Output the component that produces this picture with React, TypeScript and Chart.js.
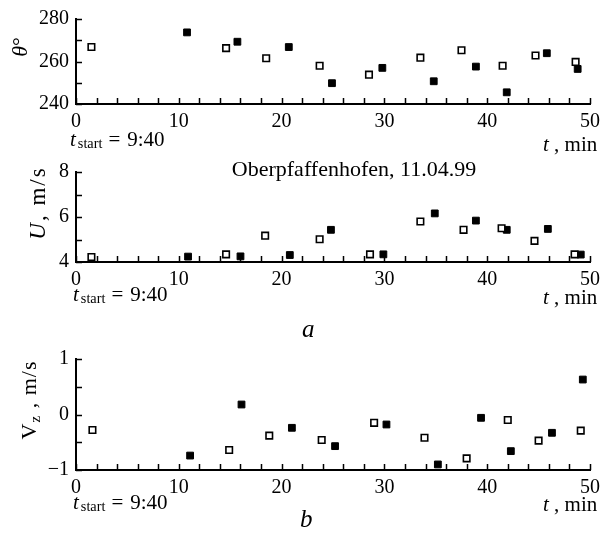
import React, { useEffect, useRef } from "react";
import { Chart, registerables } from "chart.js";

Chart.register(...registerables);

// ---- data ----
const thetaOpenT = [1.5, 14.6, 18.5, 23.7, 28.5, 33.5, 37.5, 41.5, 44.7, 48.6];
const thetaOpen = [266.8, 266.3, 261.5, 258, 253.8, 261.8, 265.3, 258, 262.8, 259.8];
const thetaFilledT = [10.8, 15.7, 20.7, 24.9, 29.8, 34.8, 38.9, 41.9, 45.8, 48.8];
const thetaFilled = [273.7, 269.3, 266.8, 249.8, 257, 250.7, 257.6, 245.5, 263.9, 256.5];

const uOpenT = [1.5, 14.6, 18.4, 23.7, 28.6, 33.5, 37.7, 41.4, 44.6, 48.5];
const uOpen = [4.22, 4.34, 5.17, 5.01, 4.34, 5.8, 5.43, 5.5, 4.94, 4.34];
const uFilledT = [10.9, 16.0, 20.8, 24.8, 29.9, 34.9, 38.9, 41.9, 45.9, 49.1];
const uFilled = [4.24, 4.25, 4.31, 5.43, 4.34, 6.16, 5.84, 5.43, 5.47, 4.33];

const vOpenT = [1.6, 14.9, 18.8, 23.9, 29.0, 33.9, 38.0, 42.0, 45.0, 49.1];
const vOpen = [-0.28, -0.64, -0.38, -0.46, -0.15, -0.42, -0.79, -0.1, -0.47, -0.29];
const vFilledT = [11.1, 16.1, 21.0, 25.2, 30.2, 35.2, 39.4, 42.3, 46.3, 49.3];
const vFilled = [-0.74, 0.18, -0.24, -0.57, -0.18, -0.9, -0.06, -0.66, -0.33, 0.63];

const xTickLabels = [0, 10, 20, 30, 40, 50];
const thetaTickLabels = [240, 260, 280];
const uTickLabels = [4, 6, 8];
const vTickLabels = [-1, 0, 1];

const FONT = "'Liberation Serif', 'Times New Roman', serif";

const zip = (xs: number[], ys: number[]) => xs.map((x, i) => ({ x, y: ys[i] }));

const axesPlugin = {
  id: "inwardAxes",
  afterDatasetsDraw(chart: any) {
    const ctx = chart.ctx;
    const area = chart.chartArea;
    const xs = chart.scales.x;
    const ys = chart.scales.y;
    ctx.save();
    ctx.strokeStyle = "#000";
    ctx.lineWidth = 1.5;
    ctx.beginPath();
    for (const t of xs.ticks) {
      const px = Math.round(xs.getPixelForValue(t.value)) + 0.5;
      ctx.moveTo(px, area.bottom);
      ctx.lineTo(px, area.bottom - 6);
    }
    for (const t of ys.ticks) {
      const py = Math.round(ys.getPixelForValue(t.value)) + 0.5;
      ctx.moveTo(area.left, py);
      ctx.lineTo(area.left + 6, py);
    }
    ctx.stroke();
    ctx.restore();
  },
};

type PanelProps = {
  top: number;
  height: number;
  areaTop: number;
  areaBottom: number;
  yMin: number;
  yMax: number;
  yStep: number;
  yLabels: number[];
  openT: number[];
  openY: number[];
  filledT: number[];
  filledY: number[];
};

function Panel(p: PanelProps) {
  const ref = useRef<HTMLCanvasElement | null>(null);
  useEffect(() => {
    if (!ref.current) return;
    const chart = new Chart(ref.current, {
      type: "scatter",
      data: {
        datasets: [
          {
            data: zip(p.openT, p.openY),
            pointStyle: "rect",
            pointRadius: 4.6,
            pointBackgroundColor: "#fff",
            pointBorderColor: "#000",
            pointBorderWidth: 1.6,
            clip: false,
          },
          {
            data: zip(p.filledT, p.filledY),
            pointStyle: "rect",
            pointRadius: 4.8,
            pointBackgroundColor: "#000",
            pointBorderColor: "#000",
            pointBorderWidth: 1,
            clip: false,
          },
        ],
      },
      options: {
        animation: false,
        responsive: false,
        maintainAspectRatio: false,
        events: [],
        layout: { padding: { left: 0, right: 25, top: p.areaTop, bottom: 0 } },
        plugins: { legend: { display: false }, tooltip: { enabled: false } },
        scales: {
          x: {
            type: "linear",
            min: 0,
            max: 50,
            grid: { display: true, drawOnChartArea: false, drawTicks: false },
            border: { display: true, color: "#000", width: 2 },
            afterFit: (s: any) => {
              s.height = p.height - p.areaBottom;
            },
            ticks: {
              stepSize: 2,
              autoSkip: false,
              maxRotation: 0,
              padding: 6,
              color: "#000",
              font: { family: FONT, size: 20 },
              callback: (v: any) => (xTickLabels.includes(Number(v)) ? String(v) : ""),
            },
          },
          y: {
            type: "linear",
            min: p.yMin,
            max: p.yMax,
            grid: { display: true, drawOnChartArea: false, drawTicks: false },
            border: { display: true, color: "#000", width: 2 },
            afterFit: (s: any) => {
              s.width = 76;
            },
            ticks: {
              stepSize: p.yStep,
              autoSkip: false,
              padding: 7,
              color: "#000",
              font: { family: FONT, size: 20 },
              callback: (v: any) => {
                const n = Number(v);
                const hit = p.yLabels.some((l) => Math.abs(l - n) < 1e-9);
                if (!hit) return "";
                return n < 0 ? "\u2212" + String(Math.abs(n)) : String(n);
              },
            },
          },
        },
      },
      plugins: [axesPlugin],
    } as any);
    return () => chart.destroy();
  }, []);
  return (
    <canvas
      ref={ref}
      width={615}
      height={p.height}
      style={{ position: "absolute", left: 0, top: p.top, width: 615, height: p.height }}
    />
  );
}

function Txt(props: {
  left: number;
  baseline: number;
  size: number;
  children: any;
  italic?: boolean;
  center?: boolean;
}) {
  const { left, baseline, size, italic, center } = props;
  return (
    <div
      style={{
        position: "absolute",
        left,
        top: baseline - 0.8375 * size,
        fontSize: size,
        lineHeight: `${size}px`,
        fontFamily: FONT,
        fontStyle: italic ? "italic" : "normal",
        whiteSpace: "nowrap",
        transform: center ? "translateX(-50%)" : undefined,
        color: "#000",
      }}
    >
      {props.children}
    </div>
  );
}

function VTxt(props: { cx: number; cy: number; size: number; spacing?: number; children: any }) {
  return (
    <div
      style={{
        position: "absolute",
        left: props.cx,
        top: props.cy,
        fontSize: props.size,
        lineHeight: `${props.size}px`,
        fontFamily: FONT,
        letterSpacing: props.spacing ?? 0,
        whiteSpace: "nowrap",
        transform: "translate(-50%, -50%) rotate(-90deg)",
        color: "#000",
      }}
    >
      {props.children}
    </div>
  );
}

const Sub = ({ children }: { children: any }) => (
  <span style={{ fontSize: "0.68em", fontStyle: "normal", position: "relative", top: "0.12em", marginLeft: 2 }}>
    {children}
  </span>
);

const TStart = ({ left, baseline }: { left: number; baseline: number }) => (
  <Txt left={left} baseline={baseline} size={21}>
    <i>t</i>
    <Sub>start</Sub>
    <span style={{ marginLeft: 6 }}>=</span>
    <span style={{ marginLeft: 7 }}>9:40</span>
  </Txt>
);

const TMin = ({ baseline }: { baseline: number }) => (
  <Txt left={543} baseline={baseline} size={21}>
    <i>t</i> , min
  </Txt>
);

export default function App() {
  return (
    <div style={{ position: "absolute", left: 0, top: 0, width: 615, height: 546, background: "#fff", overflow: "hidden" }}>
      <Panel
        top={0}
        height={132}
        areaTop={17}
        areaBottom={104}
        yMin={240}
        yMax={280}
        yStep={10}
        yLabels={thetaTickLabels}
        openT={thetaOpenT}
        openY={thetaOpen}
        filledT={thetaFilledT}
        filledY={thetaFilled}
      />
      <Panel
        top={140}
        height={150}
        areaTop={32}
        areaBottom={122}
        yMin={4}
        yMax={8}
        yStep={1}
        yLabels={uTickLabels}
        openT={uOpenT}
        openY={uOpen}
        filledT={uFilledT}
        filledY={uFilled}
      />
      <Panel
        top={340}
        height={158}
        areaTop={19}
        areaBottom={130}
        yMin={-1}
        yMax={1}
        yStep={0.5}
        yLabels={vTickLabels}
        openT={vOpenT}
        openY={vOpen}
        filledT={vFilledT}
        filledY={vFilled}
      />
      <VTxt cx={20} cy={47} size={22}>
        <i>θ</i>°
      </VTxt>
      <VTxt cx={37} cy={203} size={23} spacing={2}>
        <i>U</i>, m/s
      </VTxt>
      <VTxt cx={30} cy={400} size={22} spacing={1}>
        V<span style={{ fontSize: "0.7em", position: "relative", top: "0.25em" }}>z</span> , m/s
      </VTxt>
      <TStart left={70} baseline={147} />
      <TMin baseline={152} />
      <Txt left={354} baseline={176} size={22} center>
        Oberpfaffenhofen, 11.04.99
      </Txt>
      <TStart left={73} baseline={302} />
      <TMin baseline={305} />
      <Txt left={302} baseline={337} size={25} italic>
        a
      </Txt>
      <TStart left={73} baseline={510} />
      <TMin baseline={512} />
      <Txt left={300} baseline={527} size={25} italic>
        b
      </Txt>
    </div>
  );
}
